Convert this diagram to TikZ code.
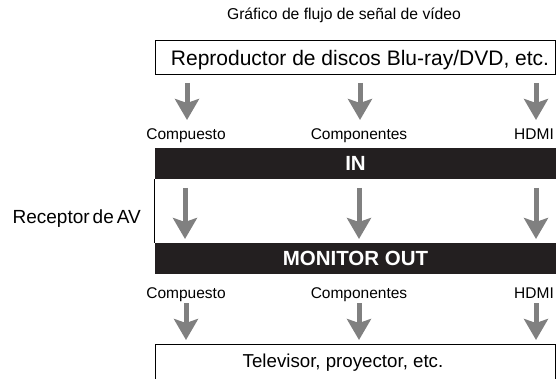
\documentclass[tikz,border=0pt]{standalone}
\usepackage{fontspec}
\setmainfont{Liberation Sans}
\usetikzlibrary{positioning,arrows.meta}
\definecolor{barblack}{HTML}{231F20}
\definecolor{siggray}{HTML}{808080}
\tikzset{
  devbox/.style={rectangle, draw=black, line width=1pt, minimum width=400pt, minimum height=34pt, inner sep=0pt, text height=15pt, text depth=0pt},
  bar/.style={rectangle, fill=barblack, text=white, minimum width=401pt, minimum height=31pt, inner sep=0pt, font=\fontsize{20.5}{24}\selectfont\bfseries},
  sig/.style={draw=siggray, line width=5pt, -{Stealth[length=21pt, width=24pt, inset=4pt]}},
  port/.style={anchor=base, inner sep=0pt, font=\fontsize{15.5}{18}\selectfont},
  ttl/.style={anchor=base, inner sep=0pt, font=\fontsize{15.7}{18}\selectfont}
}

\begin{document}
\begin{tikzpicture}[x=1pt, y=-1pt]
  \useasboundingbox (0,0) rectangle (556,379);
  \clip (0,0) rectangle (556,379);
  \node[ttl] (title) at (344,20) {Gráfico de flujo de señal de vídeo};
  \node[devbox, font=\fontsize{21}{25}\selectfont] (player) at (355,58) {\hspace*{10pt}Reproductor de discos Blu-ray/DVD, etc.};
  % player -> receiver
  \coordinate (a1) at (187,83); \coordinate (b1) at (187,120);
  \coordinate (a2) at (360,83); \coordinate (b2) at (360,120);
  \coordinate (a3) at (536,83); \coordinate (b3) at (536,120);
  \draw[sig] (a1)--(b1); \draw[sig] (a2)--(b2); \draw[sig] (a3)--(b3);
  \node[port] (cin1) at (186,140) {Compuesto};
  \node[port] (cin2) at (359,140) {Componentes};
  \node[port] (cin3) at (534,140) {HDMI};
  \node[bar] (in) at (355.5,163.5) {IN};
  \node[bar] (out) at (355.5,258.5) {MONITOR OUT};
  \draw[line width=1pt] (in.south west) -- (out.north west);
  \node[anchor=base east, inner sep=0pt, font=\fontsize{19}{22}\selectfont] (recv) at (141,224) {Receptor\hspace{3pt}de\hspace{3pt}AV};
  % inside the receiver
  \coordinate (c1) at (185,188); \coordinate (d1) at (185,239);
  \coordinate (c2) at (359,188); \coordinate (d2) at (359,239);
  \coordinate (c3) at (536,188); \coordinate (d3) at (536,239);
  \draw[sig] (c1)--(d1); \draw[sig] (c2)--(d2); \draw[sig] (c3)--(d3);
  \node[port] (cout1) at (186,298) {Compuesto};
  \node[port] (cout2) at (359,298) {Componentes};
  \node[port] (cout3) at (534,298) {HDMI};
  % receiver -> display
  \coordinate (e1) at (186,303); \coordinate (f1) at (186,340);
  \coordinate (e2) at (359,303); \coordinate (f2) at (359,340);
  \coordinate (e3) at (536,303); \coordinate (f3) at (536,340);
  \draw[sig] (e1)--(f1); \draw[sig] (e2)--(f2); \draw[sig] (e3)--(f3);
  \node[devbox, anchor=north, text height=22.5pt, text depth=40pt, font=\fontsize{18.7}{22}\selectfont] (tv) at (355,344) {\hspace*{-24pt}Televisor, proyector, etc.};
\end{tikzpicture}
\end{document}
